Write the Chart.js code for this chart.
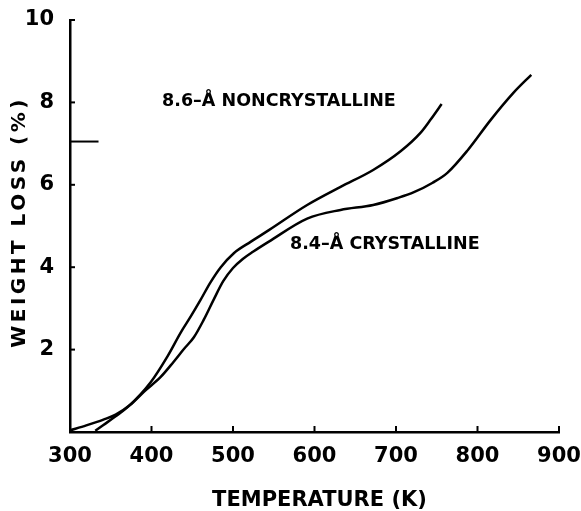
<!DOCTYPE html>
<html>
<head>
<meta charset="utf-8">
<script src="https://cdn.jsdelivr.net/npm/chart.js@4/dist/chart.umd.min.js"></script>
<style>
  html, body { margin: 0; padding: 0; background: #fff; overflow: hidden; }
  canvas { display: block; }
</style>
</head>
<body>
<canvas id="myChart" width="581" height="511"></canvas>
<script>
// temperature (K) and weight loss (%)
var tempNonCryst = [331, 341, 356, 371, 399, 420, 436, 448, 460, 472, 485, 501, 522, 544, 591, 632, 672, 706, 730, 742, 756];
var lossNonCryst = [0.03, 0.17, 0.38, 0.61, 1.21, 1.85, 2.42, 2.8, 3.2, 3.62, 4.0, 4.34, 4.62, 4.9, 5.51, 5.95, 6.36, 6.82, 7.26, 7.57, 7.96];

var tempCryst = [300, 320, 341, 356, 374, 392, 411, 427, 440, 452, 464, 476, 488, 500, 512, 525, 544, 591, 632, 672, 702, 722, 745, 763, 788, 816, 844, 866];
var lossCryst = [0.04, 0.16, 0.3, 0.42, 0.66, 1.0, 1.33, 1.7, 2.02, 2.3, 2.72, 3.2, 3.66, 3.98, 4.2, 4.38, 4.62, 5.18, 5.39, 5.51, 5.68, 5.82, 6.05, 6.29, 6.84, 7.57, 8.23, 8.67];

// short marker on the y axis
var tempMark = [300, 335];
var lossMark = [7.05, 7.05];

var xTicks = [300, 400, 500, 600, 700, 800, 900];
var yTicks = [0, 2, 4, 6, 8, 10];

var xTitle = 'TEMPERATURE (K)';
var yTitle = 'WEIGHT LOSS (%)';
var labelNonCryst = '8.6\u2013\u00c5 NONCRYSTALLINE';
var labelCryst = '8.4\u2013\u00c5 CRYSTALLINE';

function pts(xs, ys) {
    return xs.map(function(x, i){ return {x: x, y: ys[i]}; });
}

var extras = {
    id: 'extras',
    afterDraw: function(chart) {
        var ctx = chart.ctx, xs = chart.scales.x, ys = chart.scales.y;
        ctx.save();
        ctx.strokeStyle = '#000';
        ctx.lineWidth = 2;
        // inward tick marks
        xTicks.forEach(function(v){
            var px = xs.getPixelForValue(v);
            ctx.beginPath(); ctx.moveTo(px, ys.bottom); ctx.lineTo(px, ys.bottom - 6); ctx.stroke();
        });
        yTicks.forEach(function(v){
            var py = ys.getPixelForValue(v);
            ctx.beginPath(); ctx.moveTo(xs.left, py); ctx.lineTo(xs.left + 5, py); ctx.stroke();
        });
        ctx.fillStyle = '#000';
        ctx.textBaseline = 'middle';

        // curve labels
        ctx.font = 'bold 17.5px "DejaVu Sans"';
        ctx.textAlign = 'left';
        ctx.fillText(labelNonCryst, xs.getPixelForValue(413), ys.getPixelForValue(8.03));
        ctx.fillText(labelCryst, xs.getPixelForValue(570), ys.getPixelForValue(4.56));

        // axis titles
        ctx.textAlign = 'center';
        ctx.font = 'bold 21px "DejaVu Sans"';
        ctx.fillText(xTitle, (xs.left + xs.right) / 2 + 5, 501);
        ctx.save();
        ctx.translate(20, (ys.top + ys.bottom) / 2);
        ctx.rotate(-Math.PI / 2);
        ctx.letterSpacing = '3.5px';
        ctx.font = 'bold 20px "DejaVu Sans"';
        ctx.fillText(yTitle, 4, 0);
        ctx.restore();
        ctx.restore();
    }
};

var ctx = document.getElementById('myChart').getContext('2d');
var line = {showLine: true, borderColor: '#000', backgroundColor: '#000', borderWidth: 2.5,
            pointRadius: 0, cubicInterpolationMode: 'monotone', fill: false};
var tickFont = {family: 'DejaVu Sans', size: 21, weight: 'bold'};
var myChart = new Chart(ctx, {
    type: 'scatter',
    data: {
        datasets: [
            Object.assign({label: 'noncrystalline', data: pts(tempNonCryst, lossNonCryst)}, line),
            Object.assign({label: 'crystalline', data: pts(tempCryst, lossCryst)}, line),
            Object.assign({label: 'mark', data: pts(tempMark, lossMark)}, line, {borderWidth: 2})
        ]
    },
    options: {
        responsive: false,
        animation: false,
        layout: {autoPadding: false, padding: {top: 20, right: 22, bottom: 0, left: 10}},
        plugins: {legend: {display: false}, tooltip: {enabled: false}},
        scales: {
            x: {
                type: 'linear', min: 300, max: 900,
                afterBuildTicks: function(s){ s.ticks = xTicks.map(function(v){ return {value: v}; }); },
                afterFit: function(s){ s.height = 79; s.paddingLeft = 0; s.paddingRight = 0; },
                grid: {display: false, drawTicks: false},
                border: {display: true, color: '#000', width: 2.5},
                ticks: {color: '#000', padding: 12, maxRotation: 0, autoSkip: false, font: tickFont}
            },
            y: {
                type: 'linear', min: 0, max: 10,
                afterBuildTicks: function(s){ s.ticks = yTicks.map(function(v){ return {value: v}; }); },
                afterFit: function(s){ s.width = 60; s.paddingTop = 0; s.paddingBottom = 0; },
                grid: {display: false, drawTicks: false},
                border: {display: true, color: '#000', width: 2.5},
                ticks: {color: '#000', padding: 16, autoSkip: false, font: tickFont,
                        callback: function(v){ return v === 0 ? '' : v; }}
            }
        }
    },
    plugins: [extras]
});
</script>
</body>
</html>
